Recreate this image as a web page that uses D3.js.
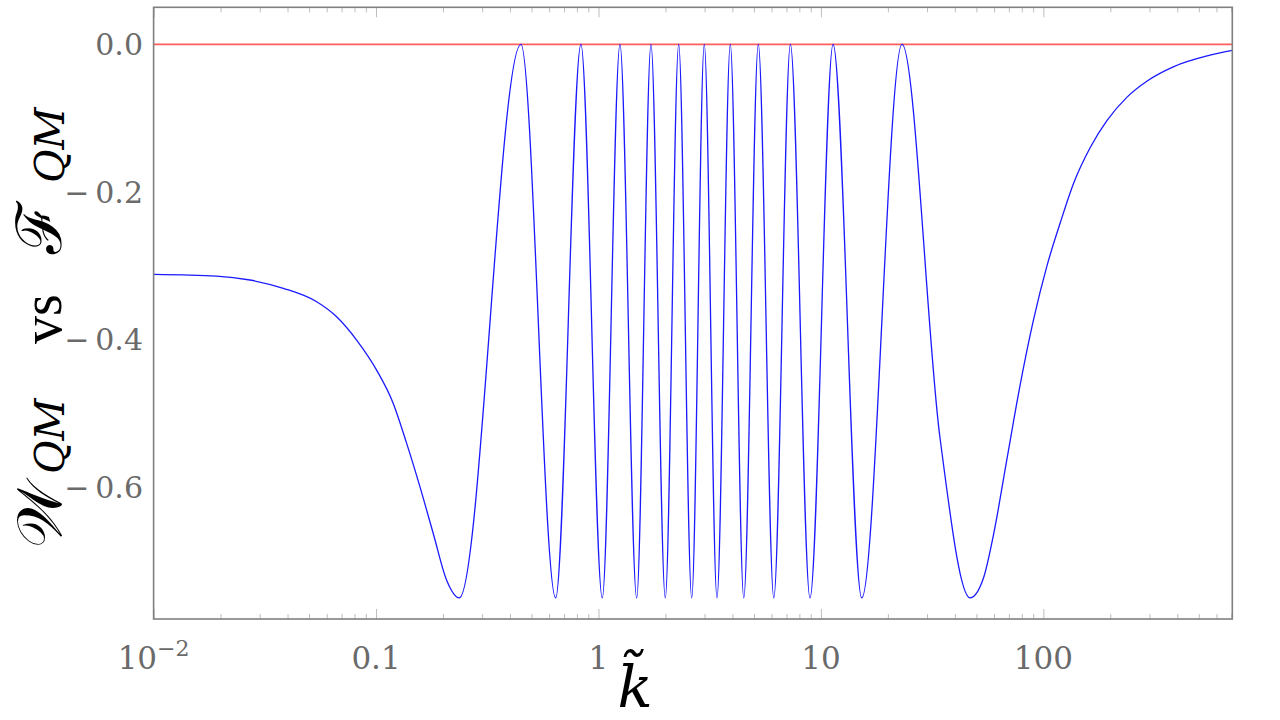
<!DOCTYPE html>
<html>
<head>
<meta charset="utf-8">
<script src="https://cdn.jsdelivr.net/npm/d3@7"></script>
<style>
  html, body { margin: 0; padding: 0; background: #fff; }
  svg { display: block; }
</style>
</head>
<body>
<svg id="chart" width="1280" height="720"></svg>
<script>
// ---- data ----
const kValues = [
  0.01, 0.0192, 0.0271, 0.0383, 0.0541, 0.0665, 0.0818, 0.1006, 0.1195, 0.1373,
  0.1576, 0.1808, 0.2077, 0.2366, 0.448, 0.642, 0.834, 1.040, 1.249, 1.485,
  1.722, 1.997, 2.294, 2.625, 2.99, 3.41, 3.914, 4.50, 5.23, 6.14,
  7.29, 8.93, 11.34, 15.26, 23.15, 34.3, 46.8, 53.8, 59.65, 68.53,
  78.73, 90.35, 103.8, 119.1, 136.8, 162.7, 193.4, 237.8, 292.9, 386.2,
  545.8, 707
];
const wValues = [
  -0.3116, -0.3139, -0.3193, -0.3306, -0.3488, -0.3691, -0.4007, -0.4414, -0.4865, -0.5407,
  -0.5996, -0.6628, -0.7261, -0.75, 0, -0.75, 0, -0.75, 0, -0.75,
  0, -0.75, 0, -0.75, 0, -0.75, 0, -0.75, 0, -0.75,
  0, -0.75, 0, -0.75, 0, -0.533, -0.75, -0.7231, -0.6648, -0.5627,
  -0.4606, -0.373, -0.3001, -0.2418, -0.1882, -0.1395, -0.1031, -0.0715, -0.0496, -0.0301,
  -0.0156, -0.0083
];
const refK = [0.01, 707];
const refW = [0, 0];

const xMajorTicks = [0.01, 0.1, 1, 10, 100];
const xTickLabels = ["10^−2", "0.1", "1", "10", "100"];
const yTicks = [0, -0.2, -0.4, -0.6];
const yTickLabels = ["0.0", "−\u20090.2", "−\u20090.4", "−\u20090.6"];

// ---- layout ----
const pLeft = 153.6, pRight = 1232.3, pTop = 7.3, pBottom = 619;
const svg = d3.select("#chart");

const x = d3.scaleLog().domain([0.01, 707]).range([pLeft, pRight]);
const y = d3.scaleLinear().domain([-0.7786, 0.0502]).range([pBottom, pTop]);

// minor ticks
const minorTicks = [];
for (let e = -2; e <= 2; e++) {
  for (let m = 2; m <= 9; m++) {
    const v = m * Math.pow(10, e);
    if (v < 707) minorTicks.push(v);
  }
}

const tickColor = "#bdbdbd";
const axisG = svg.append("g");
function tickLayer(gen, ypos, vals, size) {
  axisG.append("g").attr("transform", `translate(0,${ypos})`)
    .call(gen(x).tickValues(vals).tickSizeInner(-size).tickSizeOuter(0).tickFormat(""))
    .call(g => g.select(".domain").remove())
    .call(g => g.selectAll("line").attr("stroke", tickColor));
}
tickLayer(d3.axisBottom, pBottom, minorTicks, 5);
tickLayer(d3.axisBottom, pBottom, xMajorTicks, 10);
tickLayer(d3.axisTop, pTop, minorTicks, 5);
tickLayer(d3.axisTop, pTop, xMajorTicks, 10);

// x tick labels
const labelFont = "'DejaVu Serif', 'Liberation Serif', serif";
const labelColor = "#6a6a6a";
xMajorTicks.forEach((v, i) => {
  const parts = xTickLabels[i].split("^");
  const t = svg.append("text")
    .attr("x", x(v)).attr("y", pBottom + 50)
    .attr("text-anchor", "middle")
    .attr("font-family", labelFont).attr("font-size", 31)
    .attr("fill", labelColor);
  t.append("tspan").text(parts[0]);
  if (parts[1]) {
    t.append("tspan").attr("dy", -13).attr("font-size", 22).text(parts[1]);
  }
});

// y tick labels
yTicks.forEach((v, i) => {
  svg.append("text")
    .attr("x", 143).attr("y", y(v)).attr("dy", "0.36em")
    .attr("text-anchor", "end")
    .attr("font-family", labelFont).attr("font-size", 30)
    .attr("fill", labelColor)
    .text(yTickLabels[i]);
});

// clip
svg.append("clipPath").attr("id", "plotclip").append("rect")
  .attr("x", pLeft).attr("y", pTop).attr("width", pRight - pLeft).attr("height", pBottom - pTop);

const plot = svg.append("g").attr("clip-path", "url(#plotclip)");

// reference line at zero
plot.append("path")
  .datum(refK.map((k, i) => [k, refW[i]]))
  .attr("fill", "none").attr("stroke", "#ff5c5c").attr("stroke-width", 1.6)
  .attr("d", d3.line().x(d => x(d[0])).y(d => y(d[1])));

// main curve
plot.append("path")
  .datum(kValues.map((k, i) => [k, wValues[i]]))
  .attr("fill", "none").attr("stroke", "#1a1aff").attr("stroke-width", 1.3)
  .attr("d", d3.line().curve(d3.curveMonotoneX).x(d => x(d[0])).y(d => y(d[1])));

// frame
svg.append("rect")
  .attr("x", pLeft).attr("y", pTop).attr("width", pRight - pLeft).attr("height", pBottom - pTop)
  .attr("fill", "none").attr("stroke", "#808080").attr("stroke-width", 1.6);

// x axis label: k with combining tilde, one text
svg.append("text")
  .attr("x", 635).attr("y", 707)
  .attr("text-anchor", "middle")
  .attr("font-family", "'DejaVu Serif', 'Liberation Serif', serif")
  .attr("font-style", "italic").attr("font-size", 58)
  .attr("fill", "#000")
  .text("k\u0303");

// y axis label, laid out along the rotated baseline from the bottom up
const yl = svg.append("text")
  .attr("transform", "translate(61,550) rotate(-90)")
  .attr("text-anchor", "start")
  .attr("font-family", "'DejaVu Serif', 'Liberation Serif', serif")
  .attr("font-size", 63).attr("fill", "#000");
yl.append("tspan").attr("x", 2).attr("y", 0).text("𝒲");
yl.append("tspan").attr("x", 76).attr("y", 3).attr("font-size", 41).attr("font-style", "italic")
  .attr("font-family", "'DejaVu Serif', serif").text("QM");
yl.append("tspan").attr("x", 206).attr("y", 0).attr("font-size", 56)
  .attr("font-family", "'Liberation Serif', serif").text("vs");
yl.append("tspan").attr("x", 296).attr("y", 0).text("ℱ");
yl.append("tspan").attr("x", 367).attr("y", 3).attr("font-size", 41).attr("font-style", "italic")
  .attr("font-family", "'DejaVu Serif', serif").text("QM");
</script>
</body>
</html>
